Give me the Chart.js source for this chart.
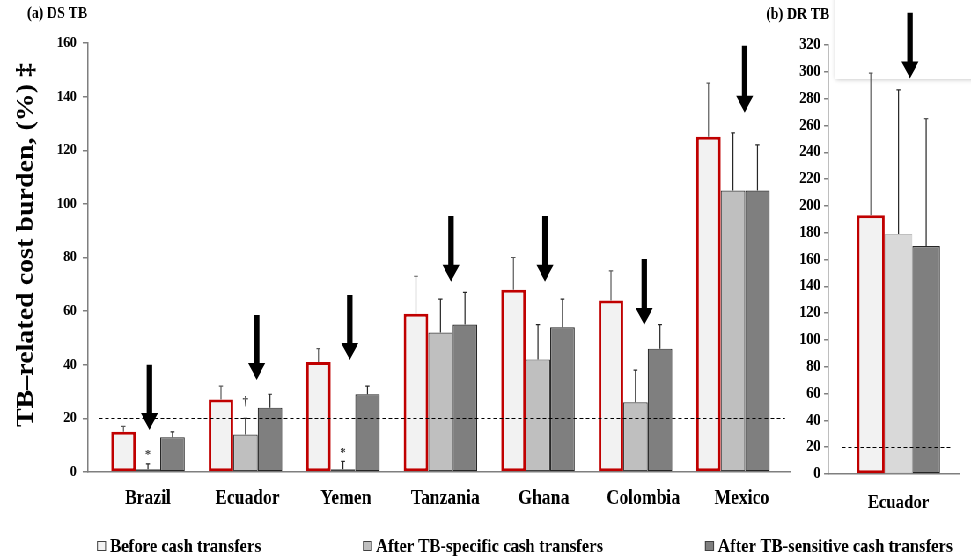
<!DOCTYPE html>
<html>
<head>
<meta charset="utf-8">
<script src="https://cdn.jsdelivr.net/npm/chart.js@4"></script>
<style>
  html, body { margin: 0; padding: 0; background: #fff; overflow: hidden; }
  #wrap { position: absolute; left: 0; top: 0; width: 1103px; height: 558px;
          transform: scaleX(0.88033); transform-origin: 0 0; }
  #wrap canvas { position: absolute; left: 0; top: 0; }
</style>
</head>
<body>
<div id="wrap">
  <canvas id="ds" width="1103" height="558"></canvas>
  <canvas id="dr" width="1103" height="558"></canvas>
</div>
<script>
// The figure is drawn on a wider canvas and squeezed horizontally (narrow serif look).
const W = 1103, H = 558;
const SX = 971 / W;
const px = v => v / SX;   // on-screen width -> canvas width

// ---------- (a) drug-susceptible TB ----------
const dsCountries    = ['Brazil', 'Ecuador', 'Yemen', 'Tanzania', 'Ghana', 'Colombia', 'Mexico'];
const dsLabelShift   = [0, 0.02, 0.03, 0.05, 0.06, 0.08, 0.09];   // country labels sit slightly right of their bars
const dsBefore       = [15, 27, 41, 59, 68, 64, 125];
const dsBeforeErr    = [17, 32, 46, 73, 80, 75, 145];
const dsSpecific     = [1, 14, 1, 52, 42, 26, 105];
const dsSpecificErr  = [3, 20, 4, 64.5, 55, 38, 126.5];
const dsSensitive    = [13, 24, 29, 55, 54, 46, 105];
const dsSensitiveErr = [15, 29, 32, 67, 64.5, 55, 122];
const dsSpecificMarks = ['*', '\u2020', '*', '', '', '', ''];
const dsYTicks = [0, 20, 40, 60, 80, 100, 120, 140, 160];
// arrows: shift from the group centre (category units), shaft top and tip (y values)
const dsArrowShift = [0.015, 0.115, 0.07, 0.108, 0.072, 0.09, 0.12];
const dsArrowTop   = [40, 58.6, 66, 95.5, 95.5, 79.4, 159];
const dsArrowTip   = [15.7, 34.3, 41.8, 71, 71, 54.8, 134];

// ---------- (b) drug-resistant TB ----------
const drCountries    = ['Ecuador'];
const drLabelShift   = [0];
const drBefore       = [193];
const drBeforeErr    = [299];
const drSpecific     = [179];
const drSpecificErr  = [286.5];
const drSensitive    = [170];
const drSensitiveErr = [265];
const drYTicks = [0, 20, 40, 60, 80, 100, 120, 140, 160, 180, 200, 220, 240, 260, 280, 300, 320];
const drArrowShift = [0.087];
const drArrowTop   = [344];
const drArrowTip   = [295];

const catastrophicThreshold = 20;
const seriesNames = ['Before cash transfers', 'After TB-specific cash transfers', 'After TB-sensitive cash transfers'];

const SERIF = '"Liberation Serif", "Times New Roman", serif';

function bars(values, errs, style, marks) {
  return Object.assign({
    data: values.map((y, i) => ({ x: i, y })),
    err: errs,
    marks: marks || [],
    borderSkipped: false
  }, style);
}

const beforeStyle   = { backgroundColor: '#f2f2f2', borderColor: '#c00000', borderWidth: 3, errColor: '#595959' };
const specStyleA    = { backgroundColor: '#bfbfbf', borderColor: '#404040', borderWidth: 1.2, errColor: '#262626' };
const specStyleB    = { backgroundColor: '#d9d9d9', borderColor: '#bfbfbf', borderWidth: 1, errColor: '#262626' };
const sensStyle     = { backgroundColor: '#7f7f7f', borderColor: '#262626', borderWidth: 1.2, errColor: '#262626' };
const legendFill    = ['#f2f2f2', '#bfbfbf', '#7f7f7f'];

// error bars, threshold line, significance marks and arrows
const extras = {
  id: 'extras',
  beforeDatasetsDraw(chart, args, opts) {
    if (!opts.shadowBox) return;
    const ctx = chart.ctx;
    ctx.save();
    ctx.shadowColor = 'rgba(0,0,0,0.28)';
    ctx.shadowBlur = 5;
    ctx.fillStyle = '#fff';
    ctx.fillRect(px(opts.shadowBox.left), -40, W, 40 + opts.shadowBox.bottom);
    ctx.restore();
  },
  afterDatasetsDraw(chart, args, opts) {
    const { ctx, chartArea, scales: { x, y } } = chart;
    ctx.save();

    // 20% threshold
    const ty = Math.round(y.getPixelForValue(opts.threshold)) + 0.5;
    ctx.strokeStyle = '#000';
    ctx.lineWidth = 1.2;
    ctx.setLineDash([4, 3]);
    ctx.beginPath();
    ctx.moveTo(chartArea.left + px(opts.dashInset[0]), ty);
    ctx.lineTo(chartArea.right - px(opts.dashInset[1]), ty);
    ctx.stroke();
    ctx.setLineDash([]);

    // upper error bars
    const cap = px(2);
    chart.data.datasets.forEach((ds, di) => {
      const meta = chart.getDatasetMeta(di);
      meta.data.forEach((bar, i) => {
        const top = y.getPixelForValue(ds.err[i]);
        ctx.strokeStyle = ds.errColor;
        ctx.lineWidth = 1.2;
        ctx.beginPath();
        ctx.moveTo(bar.x, bar.y);
        ctx.lineTo(bar.x, top);
        ctx.moveTo(bar.x - cap, top);
        ctx.lineTo(bar.x + cap, top);
        ctx.stroke();
        const m = ds.marks[i];
        if (m) {
          ctx.fillStyle = '#404040';
          ctx.font = 'bold 13px ' + SERIF;
          ctx.textAlign = 'center';
          ctx.textBaseline = 'middle';
          ctx.fillText(m, bar.x, top - (m === '*' ? 9 : 17));
        }
      });
    });

    // downward arrows
    const a = opts.arrows;
    const sw = px(5.5) / 2, hw = px(17) / 2, headH = 17;
    ctx.fillStyle = '#000';
    a.shift.forEach((s, i) => {
      const cx = x.getPixelForValue(i + s);
      const yTop = y.getPixelForValue(a.top[i]);
      const yTip = y.getPixelForValue(a.tip[i]);
      ctx.beginPath();
      ctx.moveTo(cx - sw, yTop);
      ctx.lineTo(cx + sw, yTop);
      ctx.lineTo(cx + sw, yTip - headH);
      ctx.lineTo(cx + hw, yTip - headH);
      ctx.lineTo(cx, yTip);
      ctx.lineTo(cx - hw, yTip - headH);
      ctx.lineTo(cx - sw, yTip - headH);
      ctx.closePath();
      ctx.fill();
    });
    ctx.restore();
  }
};

// panel titles, y-axis title and the shared legend
const frame = {
  id: 'frame',
  afterDraw(chart) {
    const ctx = chart.ctx;
    ctx.save();
    ctx.fillStyle = '#000';
    ctx.textAlign = 'left';
    ctx.textBaseline = 'middle';
    ctx.font = 'bold 16px ' + SERIF;
    ctx.fillText('(a) DS TB', px(27), 14);
    ctx.fillText('(b) DR TB', px(766), 15);

    // legend
    const starts = [97, 363, 705];
    ctx.font = 'bold 19px ' + SERIF;
    seriesNames.forEach((name, i) => {
      const bx = px(starts[i]);
      ctx.fillStyle = legendFill[i];
      ctx.fillRect(bx, 541, px(9), 10);
      ctx.strokeStyle = '#404040';
      ctx.lineWidth = 1;
      ctx.strokeRect(bx + 0.5, 541.5, px(9) - 1, 9);
      ctx.fillStyle = '#000';
      ctx.fillText(name, bx + px(13), 547);
    });

    // y-axis title
    ctx.translate(px(26), 245);
    ctx.rotate(-Math.PI / 2);
    ctx.textAlign = 'center';
    ctx.font = 'bold 28px ' + SERIF;
    ctx.fillText('TB\u2013related cost burden, (%) \u2021', 0, 0);
    ctx.restore();
  }
};

function scalesFor(cats, shifts, yTicks, yMax, xMin, xMax, yWidth, tickLen, tickPad, yFont, xFont, xPad) {
  return {
    x: {
      type: 'linear', offset: false, min: xMin, max: xMax,
      afterBuildTicks: s => { s.ticks = cats.map((_, i) => ({ value: i + shifts[i] })); },
      afterFit: s => { s.height = 40; },
      grid: { display: true, drawOnChartArea: false, drawTicks: false },
      border: { display: true, color: '#7f7f7f', width: 1.5 },
      ticks: { autoSkip: false, maxRotation: 0, padding: xPad, color: '#000',
               font: { family: SERIF, size: xFont, weight: 'bold' },
               callback: (v, idx) => cats[idx] !== undefined ? cats[idx] : '' }
    },
    y: {
      type: 'linear', min: 0, max: yMax,
      afterBuildTicks: s => { s.ticks = yTicks.map(v => ({ value: v })); },
      afterFit: s => { s.width = yWidth; },
      grid: { drawOnChartArea: false, drawTicks: true, tickLength: tickLen, color: '#7f7f7f', lineWidth: 1.5 },
      border: { display: true, color: '#7f7f7f', width: 1.5 },
      ticks: { padding: tickPad, color: '#000', autoSkip: false,
               font: { family: SERIF, size: yFont, weight: 'bold' } }
    }
  };
}

new Chart(document.getElementById('ds'), {
  type: 'bar',
  data: {
    datasets: [
      bars(dsBefore, dsBeforeErr, beforeStyle),
      bars(dsSpecific, dsSpecificErr, specStyleA, dsSpecificMarks),
      bars(dsSensitive, dsSensitiveErr, sensStyle)
    ]
  },
  options: {
    responsive: false, animation: false, devicePixelRatio: 1,
    layout: { padding: { left: 0, right: W - px(790), top: 43, bottom: H - 472 - 40 } },
    datasets: { bar: { categoryPercentage: 0.754, barPercentage: 1 } },
    plugins: {
      legend: { display: false }, tooltip: { enabled: false },
      extras: {
        threshold: catastrophicThreshold, dashInset: [11, 5],
        arrows: { shift: dsArrowShift, top: dsArrowTop, tip: dsArrowTip }
      }
    },
    scales: scalesFor(dsCountries, dsLabelShift, dsYTicks, 160, -0.615, 6.585, px(88), 6, 7, 15, 20, 15)
  },
  plugins: [extras, frame]
});

new Chart(document.getElementById('dr'), {
  type: 'bar',
  data: {
    datasets: [
      bars(drBefore, drBeforeErr, beforeStyle),
      bars(drSpecific, drSpecificErr, specStyleB),
      bars(drSensitive, drSensitiveErr, sensStyle)
    ]
  },
  options: {
    responsive: false, animation: false, devicePixelRatio: 1,
    layout: { padding: { left: 0, right: W - px(960), top: 45, bottom: H - 474 - 40 } },
    datasets: { bar: { categoryPercentage: 0.629, barPercentage: 1 } },
    plugins: {
      legend: { display: false }, tooltip: { enabled: false },
      extras: {
        threshold: catastrophicThreshold, dashInset: [14, 8],
        shadowBox: { left: 835, bottom: 79 },
        arrows: { shift: drArrowShift, top: drArrowTop, tip: drArrowTip }
      }
    },
    scales: scalesFor(drCountries, drLabelShift, drYTicks, 320, -0.534, 0.466, px(828), 4.5, 4, 16, 19, 18)
  },
  plugins: [extras]
});
</script>
</body>
</html>
